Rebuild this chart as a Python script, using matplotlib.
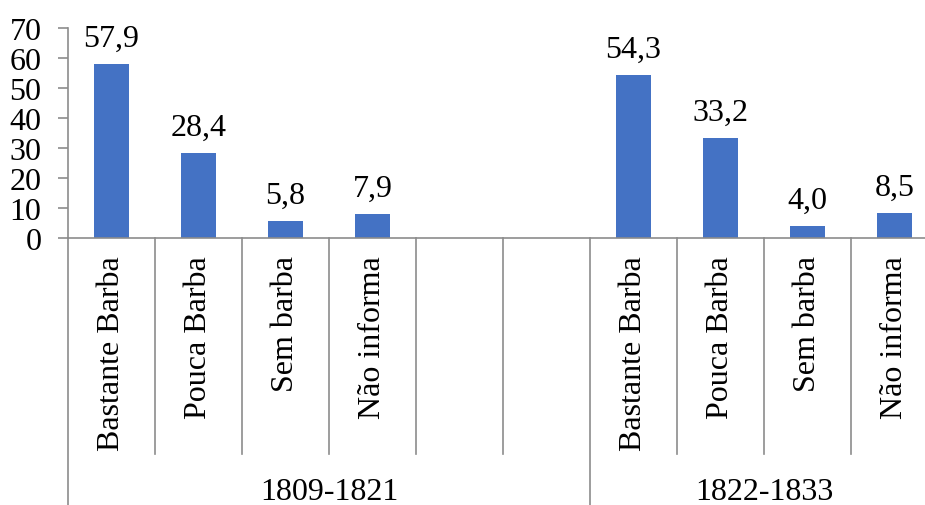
import matplotlib
matplotlib.use("Agg")
from matplotlib import pyplot as plt
import numpy as np

# Beard categories per period, two empty slots separate the groups
categories = ["Bastante Barba", "Pouca Barba", "Sem barba", "Não informa", "", "",
              "Bastante Barba", "Pouca Barba", "Sem barba", "Não informa"]
values = [57.9, 28.4, 5.8, 7.9, None, None, 54.3, 33.2, 4.0, 8.5]
periods = ["1809-1821", "1822-1833"]
period_slots = [(0, 6), (6, 10)]
yticks = [0, 10, 20, 30, 40, 50, 60, 70]

BAR = "#4472C4"
GRID = "#8c8c8c"

plt.rcParams.update({
    "font.family": ["Liberation Serif", "DejaVu Serif"],
    "font.size": 23,
})

W, H = 925, 506
fig = plt.figure(figsize=(W / 100, H / 100), dpi=100)
# axes extends a little past the right edge on purpose
x0, x1, y0, y1 = 68, 938, 239, 29
ax = fig.add_axes([x0 / W, (H - y0) / H, (x1 - x0) / W, (y0 - y1) / H])

xs = np.arange(len(categories))
for x, v in zip(xs, values):
    if v is None:
        continue
    ax.bar(x, v, width=0.4, color=BAR, zorder=2)
    ax.annotate(f"{v:.1f}".replace(".", ","), (x, v), xytext=(0, 8),
                textcoords="offset points", ha="center", va="bottom")

ax.set_xlim(-0.5, len(categories) - 0.5)
ax.set_ylim(0, 70)
ax.set_yticks(yticks)
ax.set_xticks([])
for s in ("top", "right"):
    ax.spines[s].set_visible(False)
for s in ("left", "bottom"):
    ax.spines[s].set_color(GRID)
    ax.spines[s].set_linewidth(1.2)
ax.tick_params(axis="y", length=7, width=1.2, color=GRID, pad=12)

# category labels and separators below the axis
trans = ax.get_xaxis_transform()
ax_h = y0 - y1
inner_bottom = (y0 - 455) / ax_h
outer_bottom = (y0 - H) / ax_h
for x, name in zip(xs, categories):
    if name:
        ax.text(x, (y0 - 256) / ax_h, name, rotation=90, ha="center", va="top",
                transform=trans)
group_edges = {a - 0.5 for a, _ in period_slots}
for edge in np.arange(-0.5, len(categories), 1.0):
    bottom = outer_bottom if edge in group_edges else inner_bottom
    ax.plot([edge, edge], [0, bottom], color=GRID, lw=1.2, transform=trans,
            clip_on=False)

for name, (a, b) in zip(periods, period_slots):
    ax.text((a + b - 1) / 2, (y0 - 493) / ax_h, name, ha="center", va="center",
            transform=trans)

fig.savefig("out.png", dpi=100)
